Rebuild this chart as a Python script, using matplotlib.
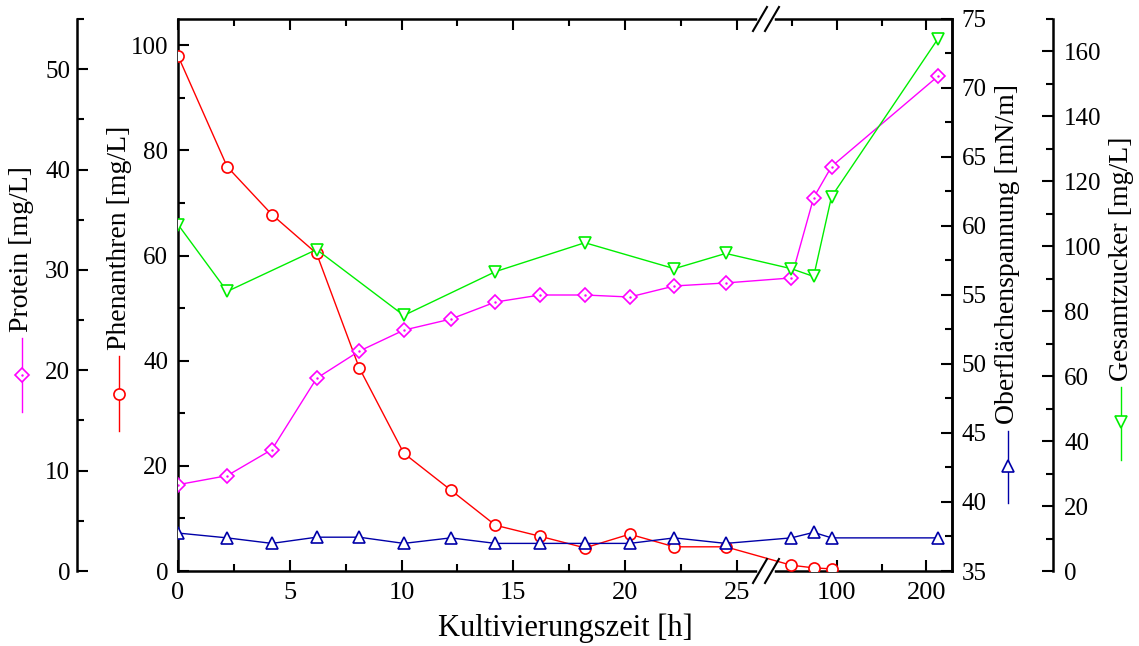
import numpy as np
import matplotlib
matplotlib.use('Agg')
import matplotlib.pyplot as plt
from matplotlib.lines import Line2D
from matplotlib.ticker import FixedLocator, MultipleLocator, FuncFormatter

plt.rcParams['font.family'] = ['Liberation Serif', 'DejaVu Serif']

# Kultivierungszeit [h]
zeit = [0, 2.2, 4.2, 6.2, 8.1, 10.1, 12.2, 14.2, 16.2, 18.2, 20.2, 22.2, 24.5, 49, 74, 94, 213]
protein = [8.6, 9.5, 12.1, 19.2, 21.9, 24.0, 25.1, 26.8, 27.5, 27.5, 27.3, 28.4, 28.7, 29.2, 37.2, 40.3, 49.3]
phen_zeit = [0, 2.2, 4.2, 6.2, 8.1, 10.1, 12.2, 14.2, 16.2, 18.2, 20.2, 22.2, 24.5, 49, 74, 94]
phenanthren = [98.0, 76.9, 67.8, 60.4, 38.7, 22.4, 15.4, 8.7, 6.6, 4.4, 7.0, 4.6, 4.6, 1.1, 0.6, 0.4]
spannung = [37.75, 37.4, 37.0, 37.45, 37.45, 37.0, 37.4, 37.0, 37.0, 37.0, 37.0, 37.4, 37.0, 37.4, 37.8, 37.4, 37.4]
zucker_zeit = [0, 2.2, 6.2, 10.1, 14.2, 18.2, 22.2, 24.5, 49, 74, 94, 213]
zucker = [106.7, 86.1, 99.0, 78.7, 92.2, 101.1, 93.1, 97.8, 93.1, 90.7, 115.3, 163.9]

x_major = [0, 5, 10, 15, 20, 25, 100, 200]
x_minor = [2.5, 7.5, 12.5, 17.5, 22.5, 50, 150]

# gebrochene Zeitachse: bis BRUCH linear, danach gestaucht
BRUCH = 26.3
START2 = 20.7
FAKTOR = 0.04
XMAX = 228.7


def vor(t):
    t = np.asarray(t, dtype=float)
    return np.where(t <= BRUCH, t, BRUCH + (t - START2) * FAKTOR)


def rueck(u):
    u = np.asarray(u, dtype=float)
    return np.where(u <= BRUCH, u, START2 + (u - BRUCH) / FAKTOR)


MAGENTA = '#ff00ff'
ROT = '#ff0000'
BLAU = '#0000a8'
GRUEN = '#00ee00'

W, H = 1139, 646
FS = 18
FT = 20
fig = plt.figure(figsize=(W / 100, H / 100), dpi=100)
ax = fig.add_axes([178 / W, 1 - 571 / H, 774 / W, 552 / H])
ax.set_xscale('function', functions=(vor, rueck))
ax.set_xlim(0, XMAX)

ax_p = ax.twinx()
ax_t = ax.twinx()
ax_z = ax.twinx()

for a in (ax_p, ax_t, ax_z):
    for s in a.spines.values():
        s.set_visible(False)

ax_p.spines['left'].set_visible(True)
ax_p.spines['left'].set_position(('axes', -101 / 774))
ax_p.yaxis.set_ticks_position('left')
ax_t.spines['right'].set_visible(True)
ax_z.spines['right'].set_visible(True)
ax_z.spines['right'].set_position(('axes', 875 / 774))

lw_sp = 1.8
for s in ax.spines.values():
    s.set_linewidth(lw_sp)
ax_p.spines['left'].set_linewidth(lw_sp)
ax_t.spines['right'].set_linewidth(lw_sp)
ax_z.spines['right'].set_linewidth(lw_sp)

# Daten
ax.plot(phen_zeit, phenanthren, color=ROT, lw=1.0, marker='o', ms=8,
        mfc='white', mec=ROT, mew=1.2, zorder=3)
ax_t.plot(zeit, spannung, color=BLAU, lw=1.0, marker='^', ms=9,
          mfc='white', mec=BLAU, mew=1.2)
ax_z.plot(zucker_zeit, zucker, color=GRUEN, lw=1.0, marker='v', ms=9,
          mfc='white', mec=GRUEN, mew=1.2)
ax_p.plot(zeit, protein, color=MAGENTA, lw=1.0, marker='D', ms=6.7,
          mfc='white', mec=MAGENTA, mew=1.2)
ax_p.plot(zeit, protein, ls='none', marker='.', ms=1.5, color=MAGENTA)

# Achsen
ax.set_ylim(0, 105)
ax_p.set_ylim(0, 55)
ax_t.set_ylim(35, 75)
ax_z.set_ylim(0, 170)

ax.xaxis.set_major_locator(FixedLocator(x_major))
ax.xaxis.set_minor_locator(FixedLocator(x_minor))
ax.xaxis.set_major_formatter(FuncFormatter(lambda v, p: f'{v:g}'))
ax.xaxis.set_minor_formatter(FuncFormatter(lambda v, p: ''))
ax.yaxis.set_major_locator(MultipleLocator(20))
ax.yaxis.set_minor_locator(MultipleLocator(10))
ax_p.yaxis.set_major_locator(MultipleLocator(10))
ax_p.yaxis.set_minor_locator(MultipleLocator(5))
ax_t.yaxis.set_major_locator(MultipleLocator(5))
ax_t.yaxis.set_minor_locator(MultipleLocator(2.5))
ax_z.yaxis.set_major_locator(MultipleLocator(20))
ax_z.yaxis.set_minor_locator(MultipleLocator(10))

ax.tick_params(axis='x', which='both', direction='in', top=True, bottom=True,
               labelsize=FS + 1, pad=8)
ax.tick_params(axis='y', which='both', direction='in', left=True, right=False,
               labelsize=FS, pad=7)
ax_p.tick_params(axis='y', which='both', direction='in', left=True, right=False,
                 labelleft=True, labelright=False, labelsize=FS, pad=5)
ax_t.tick_params(axis='y', which='both', direction='in', labelsize=FS, pad=7)
ax_z.tick_params(axis='y', which='both', direction='in', labelsize=FS, pad=8)
for a in (ax, ax_p, ax_t, ax_z):
    a.tick_params(which='major', length=8, width=1.5)
    a.tick_params(which='minor', length=5, width=1.5)

ax.set_xlabel('Kultivierungszeit [h]', fontsize=22, labelpad=7)

# Bruchzeichen auf der x-Achse
xb = float(vor(BRUCH) / vor(XMAX))
dx, dy, gap = 7 / 774, 12 / 552, 12 / 774
for yb in (0, 1):
    ax.add_line(Line2D([xb - gap / 2, xb + gap / 2], [yb, yb], transform=ax.transAxes,
                       color='white', lw=4, clip_on=False, zorder=10))
    for off in (-gap / 2, gap / 2):
        ax.add_line(Line2D([xb + off - dx, xb + off + dx], [yb - dy, yb + dy],
                           transform=ax.transAxes, color='black', lw=1.5,
                           clip_on=False, zorder=11))


# Achsentitel mit Symbol
def titel(text, x, y_text, y0, y1, ym, farbe, marker, ms, punkt=False):
    fig.text(x / W, 1 - y_text / H, text, rotation=90, ha='center', va='bottom',
             fontsize=FT)
    fig.add_artist(Line2D([x / W, x / W], [1 - y0 / H, 1 - y1 / H], color=farbe, lw=1.0))
    fig.add_artist(Line2D([x / W], [1 - ym / H], marker=marker, ms=ms, mfc='white',
                          mec=farbe, mew=1.2, ls='none'))
    if punkt:
        fig.add_artist(Line2D([x / W], [1 - ym / H], marker='.', ms=1.5, color=farbe,
                              ls='none'))


titel('Protein [mg/L]', 22, 332, 338, 412, 375, MAGENTA, 'D', 6.7, punkt=True)
titel('Phenanthren [mg/L]', 119, 350, 356, 431, 394, ROT, 'o', 8)
titel('Oberflächenspannung [mN/m]', 1008, 424, 431, 503, 466, BLAU, '^', 9)
titel('Gesamtzucker [mg/L]', 1121, 381, 387, 460, 422, GRUEN, 'v', 9)

fig.savefig('out.png', dpi=100)
